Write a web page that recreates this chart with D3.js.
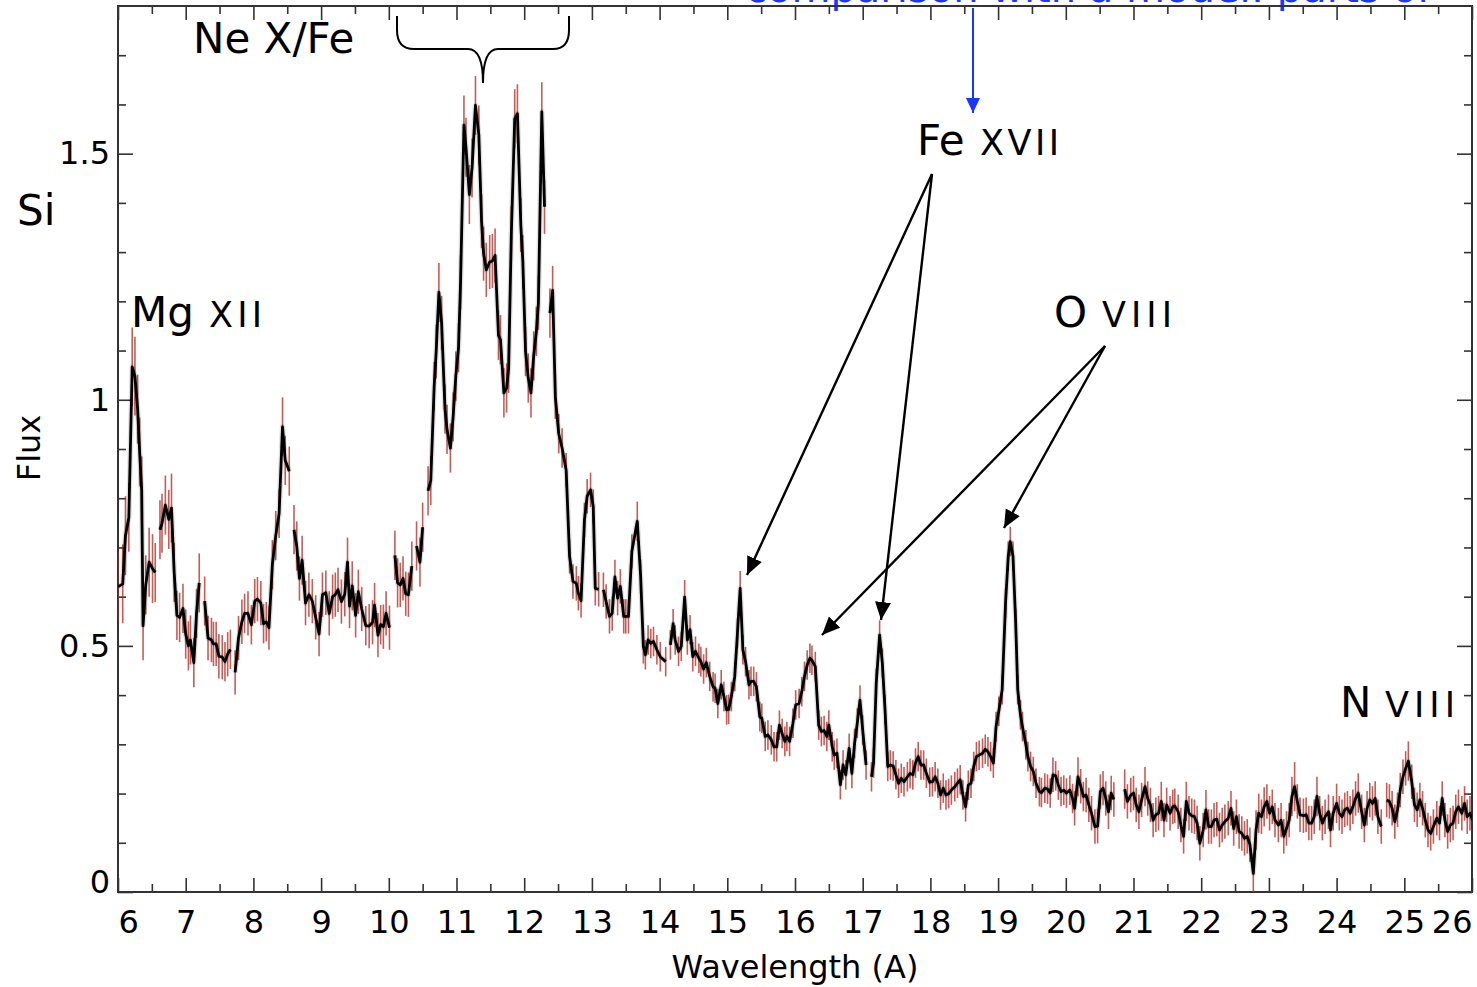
<!DOCTYPE html>
<html>
<head>
<meta charset="utf-8">
<script src="https://cdn.jsdelivr.net/npm/d3@7"></script>
<style>
  html, body { margin: 0; padding: 0; background: #fff; }
  svg { display: block; font-family: "DejaVu Sans", Verdana, sans-serif; }
</style>
</head>
<body>
<svg id="chart" width="1477" height="987"></svg>
<script>
// spectrum segments: [wavelength (A), flux, error]
const segA = [[6.00,0.620,.07],[6.07,0.626,.08],[6.11,0.724,.08],[6.16,0.761,.07],[6.21,1.067,.08],[6.25,1.048,.08],
  [6.29,0.981,.07],[6.32,0.894,.07],[6.35,0.815,.07],[6.37,0.541,.07],[6.41,0.624,.06],[6.46,0.670,.07],[6.51,0.657,.07],[6.55,0.649,.06]];
const segB = [[6.62,0.736,.06],[6.65,0.749,.06],[6.70,0.786,.06],[6.75,0.757,.06],[6.79,0.780,.07],[6.83,0.649,.06],
  [6.87,0.562,.05],[6.91,0.558,.05],[6.96,0.576,.05],[7.00,0.524,.05],[7.04,0.500,.05],[7.07,0.512,.05],[7.12,0.466,.05],
  [7.16,0.566,.05],[7.20,0.628,.06]];
const segC = [[7.28,0.591,.05],[7.33,0.516,.045],[7.38,0.512,.045],[7.41,0.504,.045],[7.45,0.504,.045],[7.49,0.479,.045],
  [7.54,0.477,.045],[7.58,0.468,.04],[7.62,0.483,.045],[7.66,0.493,.04]];
const segD = [[7.73,0.446,.045],[7.78,0.516,.045],[7.83,0.549,.045],[7.87,0.566,.04],[7.92,0.566,.045],[7.97,0.543,.04],
  [8.02,0.591,.045],[8.06,0.595,.045],[8.11,0.587,.045],[8.15,0.545,.04],[8.19,0.549,.04],[8.23,0.537,.045],[8.28,0.665,.05],
  [8.33,0.724,.05],[8.38,0.769,.05],[8.43,0.945,.06],[8.47,0.877,.05],[8.53,0.855,.05]];
const segE = [[8.60,0.736,.05],[8.64,0.703,.05],[8.68,0.637,.045],[8.72,0.674,.05],[8.77,0.587,.045],[8.82,0.604,.045],
  [8.87,0.591,.045],[8.92,0.558,.045],[8.97,0.524,.045],[9.02,0.604,.045],[9.07,0.608,.045],[9.12,0.566,.045],[9.17,0.600,.045],
  [9.21,0.604,.045],[9.25,0.614,.045],[9.30,0.590,.045],[9.35,0.605,.045],[9.39,0.670,.05],[9.42,0.581,.045],[9.46,0.622,.05],
  [9.51,0.562,.045],[9.55,0.610,.045],[9.60,0.575,.045],[9.66,0.541,.04],[9.71,0.540,.045],[9.76,0.548,.045],[9.79,0.583,.045],
  [9.84,0.522,.045],[9.88,0.543,.04],[9.92,0.539,.045],[9.96,0.566,.045],[10.01,0.537,.045]];
const segF = [[10.09,0.684,.05],[10.13,0.628,.05],[10.17,0.624,.045],[10.21,0.637,.045],[10.25,0.606,.045],[10.29,0.604,.045],[10.34,0.662,.05]];
const segG = [[10.41,0.703,.05],[10.46,0.670,.05],[10.50,0.741,.05]];
const segH = [[10.58,0.815,.05],[10.62,0.836,.05],[10.67,1.027,.05],[10.70,1.098,.055],[10.74,1.218,.06],[10.78,1.156,.055],
  [10.83,0.981,.05],[10.86,0.940,.05],[10.91,0.902,.05],[10.95,0.965,.05],[10.99,1.048,.05],[11.03,1.106,.05],[11.06,1.239,.055],
  [11.11,1.558,.06],[11.14,1.513,.06],[11.19,1.417,.06],[11.23,1.471,.06],[11.28,1.598,.06],[11.33,1.538,.06],[11.37,1.363,.055],
  [11.40,1.297,.055],[11.44,1.264,.055],[11.49,1.280,.055],[11.53,1.282,.055],[11.57,1.293,.055],[11.62,1.131,.05],[11.65,1.122,.05],
  [11.70,1.014,.05],[11.74,1.024,.05],[11.77,1.064,.05],[11.81,1.338,.055],[11.86,1.571,.06],[11.90,1.581,.06],[11.95,1.355,.055],
  [11.98,1.280,.055],[12.02,1.098,.05],[12.06,1.044,.05],[12.10,1.014,.05],[12.14,1.089,.05],[12.18,1.139,.05],[12.21,1.197,.055],
  [12.26,1.585,.06],[12.30,1.392,.055]];
const segI = [[12.38,1.176,.05],[12.42,1.222,.05],[12.46,1.006,.045],[12.51,0.931,.04],[12.56,0.902,.04],[12.62,0.857,.035],
  [12.67,0.682,.035],[12.72,0.631,.035],[12.77,0.627,.035],[12.80,0.607,.035],[12.84,0.592,.035],[12.89,0.756,.035],[12.93,0.804,.035],
  [12.98,0.817,.035],[13.02,0.783,.035],[13.05,0.617,.035],[13.10,0.615,.035]];
const segJ = [[13.17,0.614,.035],[13.21,0.590,.035],[13.26,0.560,.035],[13.30,0.566,.035],[13.34,0.640,.035],[13.38,0.597,.035],
  [13.42,0.621,.035],[13.47,0.560,.035],[13.50,0.560,.035],[13.54,0.560,.035],[13.59,0.692,.035],[13.67,0.753,.04],[13.72,0.641,.035],
  [13.76,0.499,.035],[13.79,0.482,.03],[13.83,0.512,.03],[13.87,0.505,.03],[13.91,0.509,.03],[13.96,0.492,.03],[14.01,0.478,.03],[14.09,0.468,.03]];
const segK = [[14.16,0.502,.03],[14.20,0.545,.03],[14.23,0.512,.03],[14.28,0.489,.03],[14.32,0.499,.03],[14.37,0.599,.035],
  [14.41,0.512,.03],[14.45,0.533,.03],[14.49,0.478,.03],[14.53,0.489,.03],[14.58,0.475,.03],[14.61,0.468,.03],[14.65,0.453,.03],
  [14.69,0.466,.03],[14.74,0.438,.03],[14.79,0.417,.03],[14.82,0.414,.03],[14.86,0.383,.03],[14.91,0.421,.03],[14.95,0.397,.03],
  [14.99,0.370,.03],[15.02,0.371,.03],[15.06,0.397,.03],[15.11,0.438,.03],[15.15,0.526,.03],[15.19,0.617,.035],[15.23,0.492,.03],
  [15.27,0.468,.03],[15.32,0.421,.03],[15.35,0.428,.03],[15.39,0.428,.03],[15.43,0.417,.03],[15.48,0.356,.03],[15.51,0.353,.03],
  [15.56,0.316,.03],[15.60,0.319,.03],[15.65,0.309,.03],[15.69,0.295,.03],[15.73,0.295,.03],[15.77,0.339,.03],[15.81,0.322,.03],
  [15.85,0.306,.03],[15.88,0.316,.03],[15.92,0.306,.03],[15.97,0.343,.03],[16.01,0.380,.03],[16.06,0.383,.03],[16.10,0.407,.03],
  [16.14,0.438,.03],[16.18,0.461,.03],[16.22,0.475,.03],[16.25,0.471,.03],[16.30,0.458,.03],[16.35,0.339,.03],[16.39,0.326,.03],
  [16.43,0.328,.03],[16.47,0.316,.03],[16.50,0.339,.03],[16.55,0.295,.03],[16.58,0.278,.03],[16.62,0.282,.03],[16.67,0.218,.03],
  [16.71,0.258,.03],[16.75,0.238,.03],[16.80,0.292,.03],[16.84,0.241,.03],[16.88,0.302,.03],[16.92,0.343,.03],[16.96,0.390,.03],
  [17.00,0.329,.03],[17.05,0.258,.03]];
const segL = [[17.13,0.234,.03],[17.16,0.262,.03],[17.20,0.424,.03],[17.25,0.522,.03],[17.29,0.465,.03],[17.33,0.370,.03],
  [17.37,0.255,.03],[17.41,0.258,.03],[17.45,0.256,.03],[17.49,0.238,.03],[17.53,0.221,.03],[17.57,0.231,.03],[17.61,0.224,.03],
  [17.66,0.234,.03],[17.70,0.241,.03],[17.74,0.238,.03],[17.78,0.262,.03],[17.82,0.275,.03],[17.86,0.258,.03],[17.90,0.258,.03],
  [17.94,0.241,.03],[17.99,0.223,.03],[18.03,0.224,.03],[18.07,0.234,.03],[18.11,0.221,.03],[18.15,0.197,.03],[18.19,0.211,.03],
  [18.23,0.197,.03],[18.27,0.200,.03],[18.31,0.207,.03],[18.36,0.214,.03],[18.40,0.221,.03],[18.44,0.228,.03],[18.48,0.197,.03],
  [18.52,0.173,.03],[18.56,0.217,.03],[18.60,0.221,.03],[18.64,0.255,.03],[18.68,0.275,.03],[18.72,0.278,.03],[18.77,0.282,.03],
  [18.81,0.290,.03],[18.85,0.285,.03],[18.89,0.275,.03],[18.93,0.262,.03],[18.97,0.336,.03],[19.01,0.367,.03],[19.06,0.411,.03],
  [19.11,0.587,.03],[19.15,0.682,.03],[19.18,0.712,.03],[19.22,0.682,.03],[19.26,0.546,.03],[19.29,0.411,.03],[19.33,0.360,.03],
  [19.36,0.336,.03],[19.41,0.299,.03],[19.44,0.275,.03],[19.48,0.255,.03],[19.52,0.245,.03],[19.56,0.221,.03],[19.61,0.204,.03],
  [19.64,0.202,.03],[19.69,0.211,.03],[19.73,0.209,.03],[19.77,0.201,.03],[19.81,0.238,.035],[19.85,0.236,.03],[19.89,0.217,.03],
  [19.93,0.204,.03],[19.97,0.207,.03],[20.01,0.201,.03],[20.06,0.207,.03],[20.10,0.190,.03],[20.13,0.170,.035],[20.18,0.234,.04],
  [20.22,0.215,.035],[20.26,0.194,.03],[20.30,0.197,.035],[20.34,0.177,.035],[20.38,0.160,.035],[20.43,0.133,.035],[20.47,0.134,.035],
  [20.51,0.204,.035],[20.55,0.211,.035],[20.59,0.190,.035],[20.63,0.163,.035],[20.67,0.201,.035],[20.71,0.188,.035]];
const segM = [[20.87,0.209,.04],[20.91,0.184,.035],[20.96,0.197,.035],[21.00,0.201,.035],[21.04,0.177,.035],[21.08,0.163,.035],
  [21.12,0.187,.035],[21.17,0.214,.04],[21.21,0.190,.035],[21.25,0.177,.035],[21.29,0.146,.035],[21.33,0.157,.035],[21.37,0.160,.035],
  [21.41,0.184,.04],[21.45,0.146,.035],[21.49,0.177,.035],[21.54,0.160,.035],[21.58,0.173,.035],[21.61,0.175,.035],[21.66,0.163,.035],
  [21.70,0.136,.035],[21.74,0.113,.035],[21.78,0.184,.04],[21.82,0.160,.035],[21.86,0.155,.035],[21.90,0.153,.035],[21.94,0.140,.035],
  [21.98,0.099,.035],[22.03,0.126,.035],[22.07,0.167,.04],[22.11,0.133,.035],[22.15,0.133,.035],[22.19,0.146,.035],[22.23,0.148,.035],
  [22.27,0.126,.035],[22.31,0.136,.035],[22.35,0.143,.035],[22.40,0.150,.035],[22.44,0.170,.035],[22.48,0.129,.035],[22.52,0.153,.035],
  [22.56,0.123,.035],[22.60,0.119,.035],[22.64,0.109,.035],[22.68,0.113,.035],[22.72,0.096,.035],[22.77,0.038,.04],[22.81,0.126,.04],
  [22.85,0.160,.04],[22.89,0.153,.035],[22.93,0.173,.04],[22.97,0.184,.035],[23.01,0.160,.035],[23.05,0.173,.035],[23.09,0.146,.035],
  [23.14,0.136,.035],[23.18,0.146,.035],[23.22,0.113,.035],[23.26,0.129,.035],[23.30,0.146,.035],[23.34,0.194,.04],[23.38,0.214,.05],
  [23.42,0.184,.035],[23.46,0.157,.035],[23.51,0.155,.035],[23.55,0.157,.035],[23.59,0.140,.035],[23.63,0.140,.035],[23.67,0.153,.035],
  [23.71,0.194,.04],[23.75,0.160,.035],[23.79,0.140,.035],[23.83,0.153,.035],[23.88,0.163,.035],[23.91,0.126,.035],[23.95,0.160,.035],
  [24.00,0.180,.04],[24.04,0.160,.035],[24.08,0.153,.035],[24.12,0.167,.035],[24.16,0.170,.035],[24.20,0.160,.035],[24.24,0.173,.035],
  [24.28,0.190,.035],[24.32,0.201,.04],[24.37,0.163,.035],[24.41,0.136,.035],[24.45,0.170,.035],[24.49,0.187,.035],[24.53,0.180,.035],
  [24.57,0.190,.035],[24.61,0.153,.035],[24.66,0.133,.035]];
const segN = [[24.74,0.187,.035],[24.78,0.184,.035],[24.82,0.170,.035],[24.86,0.143,.035],[24.90,0.167,.035],[24.94,0.207,.035],
  [24.98,0.234,.035],[25.02,0.251,.035],[25.06,0.266,.04],[25.11,0.224,.035],[25.15,0.177,.035],[25.19,0.167,.035],[25.23,0.187,.035],
  [25.27,0.170,.035],[25.31,0.146,.035],[25.35,0.126,.035],[25.39,0.119,.035],[25.43,0.133,.035],[25.48,0.150,.035],[25.52,0.140,.035],
  [25.56,0.190,.035],[25.60,0.146,.035],[25.64,0.123,.035],[25.68,0.136,.035],[25.72,0.140,.035],[25.76,0.163,.035],[25.80,0.173,.035],
  [25.85,0.160,.035],[25.89,0.180,.035],[25.93,0.153,.035],[25.97,0.160,.035],[26.01,0.146,.035]];

const segments = [segA, segB, segC, segD, segE, segF, segG, segH, segI, segJ, segK, segL, segM, segN];

const xMajor = d3.range(6, 27, 1);
const xMinor = d3.range(6.5, 26, 1);
const yMajor = [0, 0.5, 1, 1.5];
const yMinor = [0.1, 0.2, 0.3, 0.4, 0.6, 0.7, 0.8, 0.9, 1.1, 1.2, 1.3, 1.4, 1.6, 1.7];

const svg = d3.select('#chart');
const pL = 118, pR = 1472, pT = 6, pB = 892;

const x = d3.scaleLinear().domain([6, 26]).range([pL, pR]);
const y = d3.scaleLinear().domain([0, 1.8]).range([pB, pT]);

const defs = svg.append('defs');
defs.append('clipPath').attr('id', 'plot')
  .append('rect').attr('x', pL).attr('y', pT).attr('width', pR - pL).attr('height', pB - pT);

// blue comment running off the top of the figure
svg.append('text')
  .attr('x', 745).attr('y', 2)
  .attr('font-size', 40).attr('fill', '#1838ff')
  .text('comparison with a model: parts of');

// axes (ticks pointing inward on all four sides)
function styleAxis(g) {
  g.select('.domain').remove();
  g.selectAll('.tick line').attr('stroke', '#333').attr('stroke-width', 1.6);
  g.selectAll('text').attr('font-size', 32).attr('fill', '#000')
    .attr('font-family', '"DejaVu Sans", Verdana, sans-serif');
}

svg.append('g').attr('transform', `translate(0,${pB})`)
  .call(d3.axisBottom(x).tickValues(xMajor).tickSize(-14).tickPadding(18).tickFormat(d3.format('d')))
  .call(styleAxis)
  .call(g => {
    g.selectAll('.tick text').filter(d => d === 6).attr('text-anchor', 'start').attr('x', 0);
    g.selectAll('.tick text').filter(d => d === 26).attr('text-anchor', 'end').attr('x', 0);
  });
svg.append('g').attr('transform', `translate(0,${pB})`)
  .call(d3.axisBottom(x).tickValues(xMinor).tickSize(-8).tickFormat(''))
  .call(styleAxis);
svg.append('g').attr('transform', `translate(0,${pT})`)
  .call(d3.axisTop(x).tickValues(xMajor).tickSize(-14).tickFormat(''))
  .call(styleAxis);
svg.append('g').attr('transform', `translate(0,${pT})`)
  .call(d3.axisTop(x).tickValues(xMinor).tickSize(-8).tickFormat(''))
  .call(styleAxis);

svg.append('g').attr('transform', `translate(${pL},0)`)
  .call(d3.axisLeft(y).tickValues(yMajor).tickSize(-15).tickPadding(8).tickFormat(d => String(d)))
  .call(styleAxis)
  .call(g => g.selectAll('.tick text').filter(d => d === 0).attr('dy', '0em'));
svg.append('g').attr('transform', `translate(${pL},0)`)
  .call(d3.axisLeft(y).tickValues(yMinor).tickSize(-8).tickFormat(''))
  .call(styleAxis);
svg.append('g').attr('transform', `translate(${pR},0)`)
  .call(d3.axisRight(y).tickValues(yMajor).tickSize(-15).tickFormat(''))
  .call(styleAxis);
svg.append('g').attr('transform', `translate(${pR},0)`)
  .call(d3.axisRight(y).tickValues(yMinor).tickSize(-8).tickFormat(''))
  .call(styleAxis);

svg.append('rect')
  .attr('x', pL).attr('y', pT).attr('width', pR - pL).attr('height', pB - pT)
  .attr('fill', 'none').attr('stroke', '#333').attr('stroke-width', 2);

// axis titles
svg.append('text')
  .attr('x', 795).attr('y', 978)
  .attr('text-anchor', 'middle').attr('font-size', 32)
  .text('Wavelength (A)');
svg.append('text')
  .attr('transform', 'translate(40,448) rotate(-90)')
  .attr('text-anchor', 'middle').attr('font-size', 32)
  .text('Flux');

// spectrum
const plot = svg.append('g').attr('clip-path', 'url(#plot)');
const allPts = segments.flat();

plot.append('g').selectAll('line')
  .data(allPts)
  .join('line')
  .attr('x1', d => x(d[0])).attr('x2', d => x(d[0]))
  .attr('y1', d => y(d[1] - d[2])).attr('y2', d => y(d[1] + d[2]))
  .attr('stroke', '#b3261e').attr('stroke-opacity', 0.75).attr('stroke-width', 1.6);

const line = d3.line().x(d => x(d[0])).y(d => y(d[1]));

plot.append('g').selectAll('path')
  .data(segments)
  .join('path')
  .attr('d', line)
  .attr('fill', 'none').attr('stroke', '#000').attr('stroke-opacity', 0.12)
  .attr('stroke-width', 5.5).attr('stroke-linejoin', 'round');

plot.append('g').selectAll('path')
  .data(segments)
  .join('path')
  .attr('d', line)
  .attr('fill', 'none').attr('stroke', '#000')
  .attr('stroke-width', 2.8).attr('stroke-linejoin', 'round');

// line identifications
const labels = [
  {el: 'Ne X/Fe', ex: 193, y: 53},
  {el: 'Si', ex: 17, y: 225},
  {el: 'Mg', ex: 131, y: 327, ion: 'XII', ix: 209, iw: 53},
  {el: 'Fe', ex: 917, y: 155, ion: 'XVII', ix: 980, iw: 79},
  {el: 'O', ex: 1054, y: 327, ion: 'VIII', ix: 1102, iw: 70},
  {el: 'N', ex: 1340, y: 717, ion: 'VIII', ix: 1385, iw: 70}
];
labels.forEach(l => {
  svg.append('text').attr('x', l.ex).attr('y', l.y).attr('font-size', 42).text(l.el);
  if (l.ion) {
    svg.append('text').attr('x', l.ix).attr('y', l.y).attr('font-size', 35)
      .attr('textLength', l.iw).attr('lengthAdjust', 'spacing').text(l.ion);
  }
});

// brace over the Ne X / Fe blend
svg.append('path')
  .attr('d', 'M397,16 L397,30 Q397,49 414,49 L468,49 Q483,49 483,83 Q483,49 498,49 L553,49 Q569,49 569,30 L569,16')
  .attr('fill', 'none').attr('stroke', '#000').attr('stroke-width', 2);

// arrows
defs.append('marker').attr('id', 'head')
  .attr('markerUnits', 'userSpaceOnUse').attr('markerWidth', 20).attr('markerHeight', 18)
  .attr('refX', 18).attr('refY', 8).attr('orient', 'auto')
  .append('path').attr('d', 'M0,0 L18,8 L0,16 Z').attr('fill', '#000');
defs.append('marker').attr('id', 'bluehead')
  .attr('markerUnits', 'userSpaceOnUse').attr('markerWidth', 18).attr('markerHeight', 16)
  .attr('refX', 15).attr('refY', 7).attr('orient', 'auto')
  .append('path').attr('d', 'M0,0 L15,7 L0,14 Z').attr('fill', '#1838ff');

const arrows = [
  [932, 174, 747, 575],
  [932, 174, 881, 620],
  [1105, 346, 822, 635],
  [1105, 346, 1004, 528]
];
svg.append('g').selectAll('line')
  .data(arrows)
  .join('line')
  .attr('x1', d => d[0]).attr('y1', d => d[1]).attr('x2', d => d[2]).attr('y2', d => d[3])
  .attr('stroke', '#000').attr('stroke-width', 2.4).attr('marker-end', 'url(#head)');

svg.append('line')
  .attr('x1', 973).attr('y1', 8).attr('x2', 973).attr('y2', 113)
  .attr('stroke', '#1838ff').attr('stroke-width', 2).attr('marker-end', 'url(#bluehead)');
</script>
</body>
</html>
